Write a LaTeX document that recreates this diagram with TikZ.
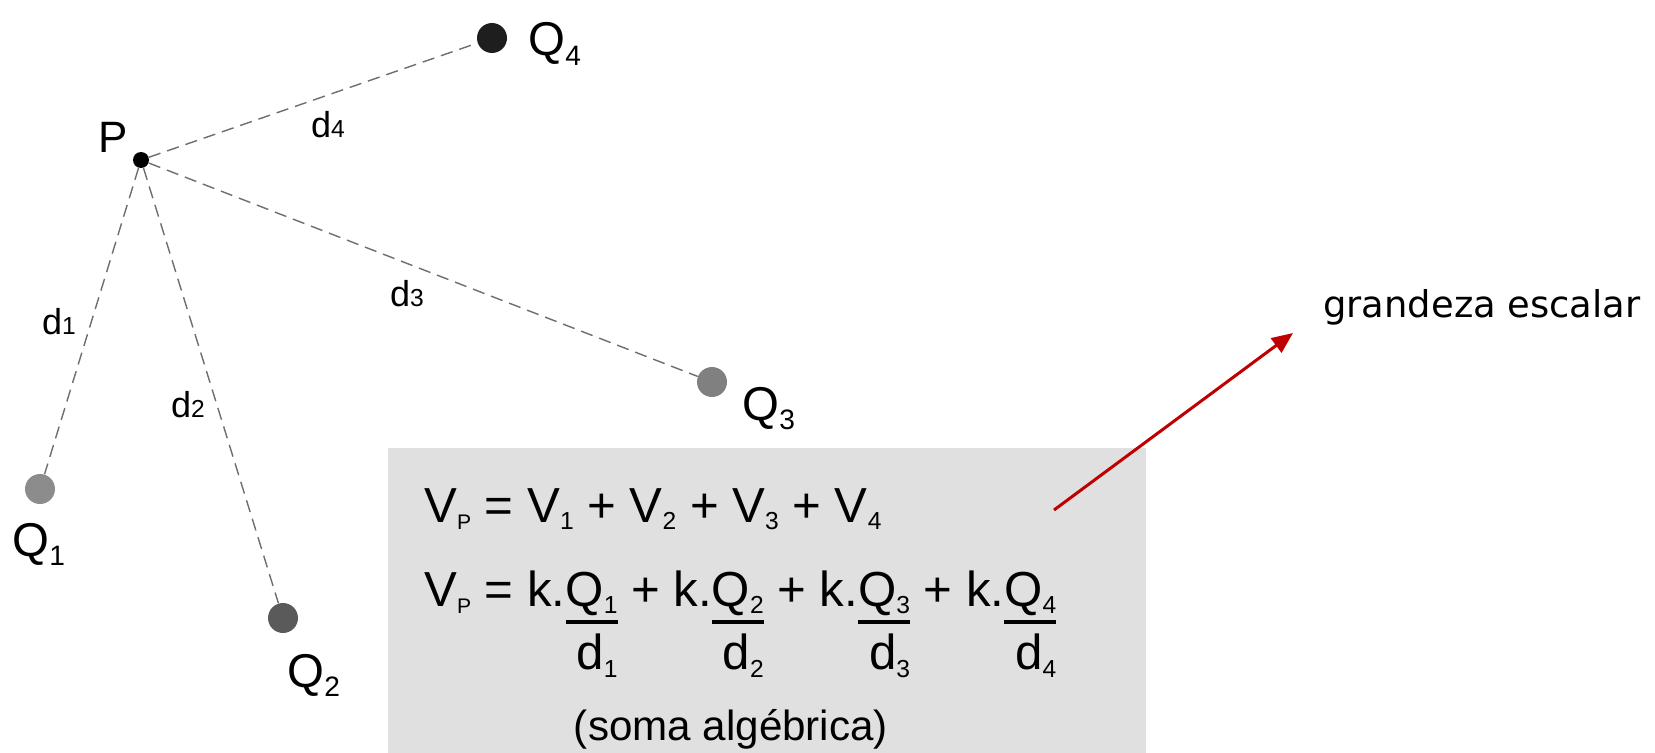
\documentclass[tikz,border=0pt]{standalone}
\usepackage{fontspec}
\setmainfont{Liberation Sans}
\newfontfamily\verdanalike{DejaVu Sans}
\usetikzlibrary{arrows.meta}

\definecolor{boxgray}{RGB}{224,224,224}
\definecolor{arrowred}{RGB}{192,0,0}
\definecolor{distgray}{RGB}{110,110,110}
\definecolor{qonegray}{RGB}{140,140,140}
\definecolor{qtwogray}{RGB}{90,90,90}
\definecolor{qthreegray}{RGB}{128,128,128}
\definecolor{qfourgray}{RGB}{30,30,30}

\newcommand{\lowidx}[2][14]{\raisebox{-4.5pt}{\fontsize{#1}{#1}\selectfont #2}}
\newcommand{\qidx}[1]{\raisebox{-5.5pt}{\fontsize{16}{16}\selectfont #1}}
\newcommand{\dlab}[1]{d{\fontsize{14}{15}\selectfont #1}}
\newcommand{\qfrac}[2]{\vtop{\offinterlineskip\halign{\hfil##\cr\smash{#1}\cr
  \noalign{\kern8pt\hrule height2.3pt\kern26.1pt}\smash{#2}\cr}}}

\begin{document}
\begin{tikzpicture}[x=0.02cm, y=-0.02cm,
    charge/.style={circle, fill=#1, inner sep=0pt, minimum size=0.6cm},
    dist/.style={draw=distgray, line width=0.8pt, dash pattern=on 7pt off 4pt},
    lab/.style={inner sep=0pt, anchor=base west, font=\fontsize{27}{32}\selectfont},
    dl/.style={inner sep=0pt, anchor=base, font=\fontsize{20.5}{24}\selectfont},
    eq/.style={inner sep=0pt, anchor=base west, font=\fontsize{28}{33}\selectfont}]
    \useasboundingbox (0,0) rectangle (1655,753);

    % quadro
    \fill[boxgray] (388,448) rectangle (1146,753);

    % cargas
    \node[circle, fill=black, inner sep=0pt, minimum size=0.32cm] (P) at (141,160) {};
    \node[charge=qonegray] (Q1) at (40,489) {};
    \node[charge=qtwogray] (Q2) at (283,618) {};
    \node[charge=qthreegray] (Q3) at (712,382) {};
    \node[charge=qfourgray] (Q4) at (492,38) {};

    % distancias
    \foreach \q in {Q1,Q2,Q3,Q4}
        \draw[dist] (P) -- (\q);

    \node[lab, font=\fontsize{25}{30}\selectfont] (Plab) at (98,153) {P};
    \node[lab] (Q1lab) at (12,556) {Q\qidx{1}};
    \node[lab] (Q2lab) at (287,687) {Q\qidx{2}};
    \node[lab] (Q3lab) at (742,420) {Q\qidx{3}};
    \node[lab] (Q4lab) at (528,56) {Q\qidx{4}};

    \node[dl] (d1) at (59,334) {\dlab{1}};
    \node[dl] (d2) at (188,417) {\dlab{2}};
    \node[dl] (d3) at (407,306) {\dlab{3}};
    \node[dl] (d4) at (328,138) {\dlab{4}};

    % equacoes
    \node[eq] (eqsum) at (424,522) {V\lowidx[12]{P} = V\lowidx{1} + V\lowidx{2} + V\lowidx{3} + V\lowidx{4}};
    \node[eq] (eqfrac) at (424,606) {V\lowidx[12]{P} = k.\qfrac{Q\lowidx{1}}{d\lowidx{1}} + k.\qfrac{Q\lowidx{2}}{d\lowidx{2}} + k.\qfrac{Q\lowidx{3}}{d\lowidx{3}} + k.\qfrac{Q\lowidx{4}}{d\lowidx{4}}};
    \node[inner sep=0pt, font=\fontsize{24}{29}\selectfont] (soma) at (731,729) {(soma algébrica)};

    % seta
    \node[inner sep=0pt, anchor=base west, font=\verdanalike\fontsize{21}{25}\selectfont] (escalar) at (1323,317) {grandeza escalar};
    \coordinate (tail) at (1054,510);
    \coordinate (tip) at (1293,333);
    \draw[-{Triangle[length=12pt,width=10pt]}, arrowred, line width=1.7pt] (tail) -- (tip);
\end{tikzpicture}
\end{document}
